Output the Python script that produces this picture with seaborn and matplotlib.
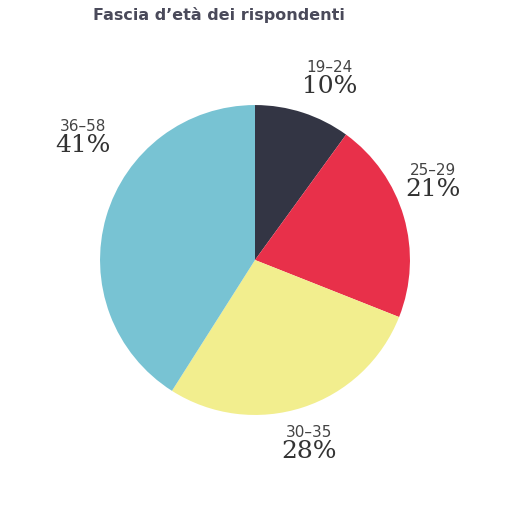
import matplotlib
matplotlib.use("Agg")
import matplotlib.pyplot as plt
import seaborn as sns
import numpy as np

sns.set_theme(style="white")
plt.rcParams['font.family'] = ['DejaVu Sans']

categories = ["19–24", "25–29", "30–35", "36–58"]
values = [10, 21, 28, 41]
colors = ["#333544", "#E8304A", "#F2EE8E", "#78C3D3"]
# label angle adjustments (degrees) and radii for readability
angle_adj = [5, -6, 2, 18]
label_r = [1.23, 1.24, 1.27, 1.34]

fig = plt.figure(figsize=(5.1, 5.2), dpi=100)
ax = fig.add_axes([0.196, 0.202, 0.608, 0.596])
ax.pie(values, colors=colors, startangle=90, counterclock=False,
       wedgeprops=dict(linewidth=0))
ax.set_xlim(-1, 1)
ax.set_ylim(-1, 1)
ax.set_aspect("equal")
ax.set_axis_off()

total = sum(values)
cum = 0
for i, (c, v) in enumerate(zip(categories, values)):
    mid = (cum + v / 2) / total * 360 + angle_adj[i]
    cum += v
    a = np.deg2rad(mid)
    x, y = label_r[i] * np.sin(a), label_r[i] * np.cos(a)
    t1 = ax.text(x, y + 0.06, c, ha="center", va="bottom", fontsize=11, color="#444444")
    t2 = ax.text(x, y + 0.06, f"{v}%", ha="center", va="top", fontsize=18,
                 family="DejaVu Serif", color="#333333")
    t1.set_clip_on(False); t2.set_clip_on(False)

fig.text(0.43, 0.972, "Fascia d’età dei rispondenti", ha="center", va="center",
         fontsize=11.5, fontweight="bold", color="#4a4a5a")
fig.savefig("out.png", dpi=100, facecolor="white")
